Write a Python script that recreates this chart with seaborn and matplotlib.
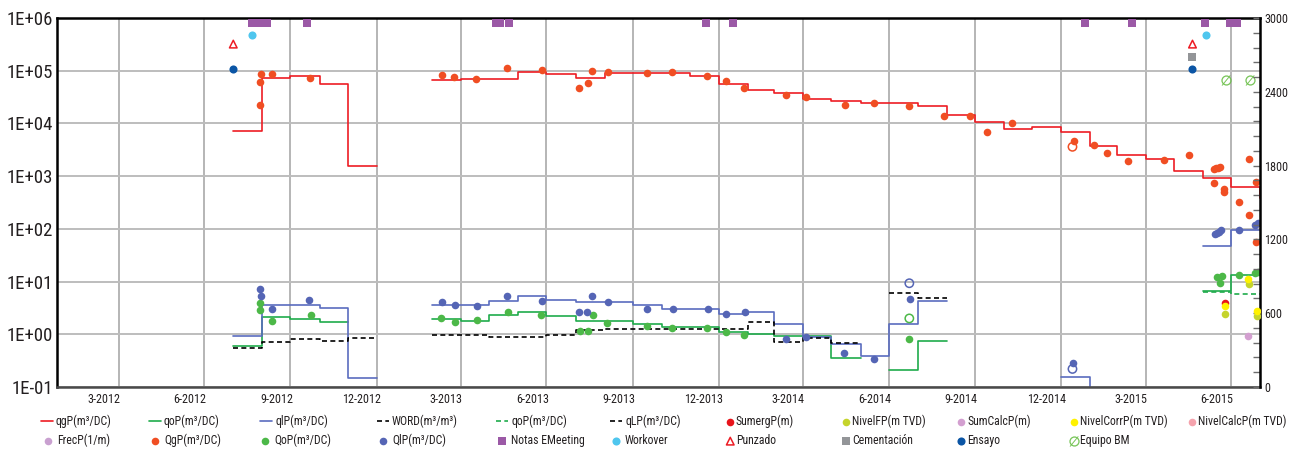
import numpy as np
import pandas as pd
import matplotlib
matplotlib.use("Agg")
import matplotlib.pyplot as plt
import matplotlib.dates as mdates
from matplotlib import ticker, font_manager
import seaborn as sns

nan = np.nan

# ---------------------------------------------------------------------------
# Monthly allocated rates (step lines): one value per calendar month
# ---------------------------------------------------------------------------
months = pd.date_range("2012-08-01", "2015-08-01", freq="MS")

qgP = [7.3e3, 7.4e4, 7.9e4, 5.7e4, 1.58e3,
       nan, nan, 6.7e4, 7.1e4, 7.1e4, 9.5e4, 8.5e4, 7.4e4, 8.9e4, 8.9e4, 8.9e4, 7.9e4,
       5.5e4, 4.3e4, 3.8e4, 2.9e4, 2.7e4, 2.4e4, 2.4e4, 2.15e4, 1.45e4, 1.07e4, 7.9e3, 8.7e3,
       6.9e3, 3.8e3, 2.5e3, 2.15e3, 1.24e3, 9.1e2, 6.3e2, 3.9e2]
qoP = [0.59, 2.16, 1.95, 1.73, nan,
       nan, nan, 1.98, 1.79, 2.29, 2.69, 2.25, 1.81, 1.81, 1.57, 1.36, 1.36,
       1.10, 1.01, 0.92, 0.92, 0.36, nan, 0.21, 0.74, nan, nan, nan, nan,
       nan, nan, nan, nan, nan, 6.7, 13.5, nan]
qlP = [0.94, 3.65, 3.65, 3.15, 0.146,
       nan, nan, 3.6, 3.6, 4.3, 5.3, 4.5, 4.1, 4.1, 3.55, 2.98, 2.98,
       2.46, 2.65, 1.55, 0.90, 0.65, 0.39, 1.57, 4.2, nan, nan, nan, nan,
       0.157, 0.01, nan, nan, nan, 48.0, 95.0, nan]
WORD = [0.54, 0.70, 0.81, 0.75, 0.86,
        nan, nan, 0.98, 0.98, 0.88, 0.88, 0.98, 1.22, 1.28, 1.28, 1.28, 1.28,
        1.28, 1.69, 0.72, 0.84, 0.67, nan, 6.0, 4.8, nan, nan, nan, nan,
        nan, nan, nan, nan, nan, nan, nan, nan]
qoP_pronostico = [nan, nan, nan, nan, nan,
                  nan, nan, nan, nan, nan, nan, nan, nan, nan, nan, nan, nan,
                  nan, nan, nan, nan, nan, nan, nan, nan, nan, nan, nan, nan,
                  nan, nan, nan, nan, nan, 6.4, 5.9, nan]
qLP = []

# ---------------------------------------------------------------------------
# Well tests (points)
# ---------------------------------------------------------------------------
QgP_fechas = ["2012-08-29", "2012-08-30", "2012-08-31", "2012-09-11", "2012-10-22",
              "2013-03-12", "2013-03-24", "2013-04-17", "2013-05-20", "2013-06-26",
              "2013-08-05", "2013-08-14", "2013-08-19", "2013-09-05", "2013-10-16",
              "2013-11-12", "2013-12-19", "2014-01-09", "2014-01-28", "2014-03-14",
              "2014-04-04", "2014-05-15", "2014-06-15", "2014-07-23", "2014-08-29",
              "2014-09-26", "2014-10-14", "2014-11-09", "2015-01-15", "2015-02-05",
              "2015-02-19", "2015-03-13", "2015-04-21", "2015-05-17", "2015-06-13",
              "2015-06-15", "2015-06-17", "2015-06-19", "2015-06-13", "2015-06-24",
              "2015-06-24", "2015-07-10", "2015-07-20", "2015-07-20", "2015-07-28",
              "2015-07-28"]
QgP_valores = [2.2e4, 6.2e4, 8.7e4, 8.7e4, 7.2e4,
               8.4e4, 7.5e4, 7.1e4, 1.15e5, 1.02e5,
               4.7e4, 5.8e4, 1.0e5, 9.6e4, 9.1e4,
               9.4e4, 7.9e4, 6.4e4, 4.6e4, 3.5e4,
               3.2e4, 2.2e4, 2.4e4, 2.15e4, 1.39e4,
               1.39e4, 6.9e3, 1.01e4, 4.7e3, 3.85e3,
               2.8e3, 1.92e3, 2.05e3, 2.56e3, 1.35e3,
               1.4e3, 1.45e3, 1.5e3, 7.5e2, 5.6e2,
               5.1e2, 3.2e2, 1.86e2, 2.1e3, 7.6e2,
               57.0]

QoP_fechas = ["2012-08-30", "2012-08-30", "2012-09-11", "2012-10-23",
              "2013-03-11", "2013-03-25", "2013-04-18", "2013-05-21", "2013-06-25",
              "2013-08-06", "2013-08-14", "2013-08-20", "2013-09-04", "2013-10-16",
              "2013-11-12", "2013-12-19", "2014-01-08", "2014-01-28", "2014-07-23",
              "2015-06-16", "2015-06-19", "2015-06-21", "2015-07-10", "2015-07-27",
              "2015-07-30"]
QoP_valores = [4.0, 2.85, 1.79, 2.32,
               2.0, 1.73, 1.87, 2.68, 2.29,
               1.17, 1.16, 2.32, 1.61, 1.46,
               1.3, 1.3, 1.09, 0.98, 0.81,
               12.1, 9.5, 12.6, 13.4, 14.6,
               15.2]

QlP_fechas = ["2012-08-29", "2012-08-31", "2012-09-11", "2012-10-21",
              "2013-03-12", "2013-03-25", "2013-04-18", "2013-05-20", "2013-06-26",
              "2013-08-05", "2013-08-13", "2013-08-19", "2013-09-05", "2013-10-16",
              "2013-11-13", "2013-12-20", "2014-01-08", "2014-01-29", "2014-03-14",
              "2014-04-04", "2014-05-14", "2014-06-15", "2014-07-24", "2015-01-14",
              "2015-06-14", "2015-06-16", "2015-06-18", "2015-06-20", "2015-07-10",
              "2015-07-27", "2015-07-30"]
QlP_valores = [7.2, 5.3, 3.06, 4.5,
               4.1, 3.55, 3.44, 5.3, 4.3,
               2.68, 2.68, 5.3, 4.05, 2.98,
               2.98, 2.98, 2.39, 2.68, 0.83,
               0.89, 0.45, 0.34, 4.6, 0.29,
               79.0, 84.0, 89.0, 94.0, 96.0,
               119.0, 127.0]

# Tests flagged as not validated (open symbols)
QgP_nv_fechas, QgP_nv_valores = ["2015-01-13"], [3.6e3]
QoP_nv_fechas, QoP_nv_valores = ["2014-07-23"], [2.0]
QlP_nv_fechas, QlP_nv_valores = ["2014-07-23", "2015-01-13"], [9.3, 0.22]

# ---------------------------------------------------------------------------
# Well events (plotted on the rate axis at fixed heights)
# ---------------------------------------------------------------------------
notas_fechas = ["2012-08-21", "2012-08-28", "2012-09-06", "2012-10-19",
                "2013-05-08", "2013-05-12", "2013-05-22", "2013-12-18",
                "2014-01-16", "2015-01-26", "2015-03-17", "2015-06-03",
                "2015-06-30", "2015-07-07"]
notas_valores = [8.1e5, 8.1e5, 8.1e5, 8.1e5, 8.1e5, 8.1e5, 8.1e5,
                 8.1e5, 8.1e5, 8.1e5, 8.1e5, 8.1e5, 8.1e5, 8.1e5]
workover_fechas, workover_valores = ["2012-08-21", "2015-06-04"], [4.8e5, 4.8e5]
punzado_fechas, punzado_valores = ["2012-08-01", "2015-05-21"], [3.2e5, 3.2e5]
cementacion_fechas, cementacion_valores = ["2015-05-21"], [1.85e5]
ensayo_fechas, ensayo_valores = ["2012-08-01", "2015-05-21"], [1.1e5, 1.1e5]
equipo_fechas, equipo_valores = ["2015-06-26", "2015-07-21"], [6.7e4, 6.7e4]

# ---------------------------------------------------------------------------
# Levels and submergence (right axis, metres)
# ---------------------------------------------------------------------------
sumerg_fechas, sumerg_valores = ["2015-06-25"], [685.0]
nivelF_fechas, nivelF_valores = ["2015-06-25", "2015-07-20", "2015-07-29"], [596.0, 835.0, 580.0]
nivelCorr_fechas, nivelCorr_valores = ["2015-06-25", "2015-07-19", "2015-07-29"], [661.0, 878.0, 620.0]
sumCalc_fechas, sumCalc_valores = ["2015-07-19"], [415.0]
nivelCalc_fechas, nivelCalc_valores = [], []
frec_fechas, frec_valores = [], []

# ---------------------------------------------------------------------------
# Style
# ---------------------------------------------------------------------------
sns.set_style("white")


def pick_font():
    """Prefer a narrow sans face; fall back to DejaVu Sans."""
    faces = font_manager.fontManager.ttflist
    names = {f.name for f in faces}
    for n in ["Liberation Sans Narrow", "Roboto Condensed", "DejaVu Sans Condensed",
              "Open Sans Condensed", "Noto Sans Condensed", "Noto Sans Display Condensed"]:
        if n in names:
            return n, "normal"
    for f in faces:
        st = str(f.stretch).lower()
        if st in ("condensed", "semi-condensed", "extra-condensed") and f.style == "normal" \
                and str(f.weight) in ("400", "normal", "regular"):
            return f.name, st
    return "DejaVu Sans", "normal"


FONT, STRETCH = pick_font()
plt.rcParams["font.family"] = [FONT, "DejaVu Sans"]
plt.rcParams["font.stretch"] = STRETCH
plt.rcParams["text.color"] = "#231f20"
plt.rcParams["xtick.color"] = "#231f20"
plt.rcParams["ytick.color"] = "#231f20"

C_GAS = "#ed1c24"
C_OIL = "#1fab4b"
C_LIQ = "#5a6cbf"
C_QG = "#f04e23"
C_QO = "#4cb848"
C_QL = "#5565b5"

W, H = 1298, 450
fig = plt.figure(figsize=(W / 100, H / 100), dpi=100)


def size_for(sample, width_px):
    """Font size (pt) at which `sample` is width_px wide."""
    r = fig.canvas.get_renderer()
    t = fig.text(0, 0, sample, fontsize=10)
    w = t.get_window_extent(r).width
    t.remove()
    return 10 * width_px / w


FS_LEFT = size_for("1E+06", 46)
FS_TICK = size_for("3-2012", 32.5)
FS_LEG = size_for("qgP(m³/DC)", 56)

ax = fig.add_axes([57 / W, 1 - 387 / H, (1260 - 57) / W, (387 - 18) / H])
ax.set_yscale("log")
ax.set_ylim(0.1, 1e6)
ax.set_xlim(pd.Timestamp("2012-01-26"), pd.Timestamp("2015-08-01"))


def step_frame(values):
    """Turn monthly values into vertices of a month-by-month staircase."""
    rows, tramo, prev_ok = [], 0, False
    for i, v in enumerate(values):
        if np.isnan(v):
            prev_ok = False
            continue
        if not prev_ok:
            tramo += 1
        start = months[i]
        end = start + pd.offsets.MonthBegin(1)
        rows.append((start, v, tramo))
        rows.append((end, v, tramo))
        prev_ok = True
    return pd.DataFrame(rows, columns=["fecha", "valor", "tramo"])


def step_line(values, color, ls="-"):
    df = step_frame(values)
    sns.lineplot(data=df, x="fecha", y="valor", units="tramo", estimator=None,
                 sort=False, color=color, lw=1.2, linestyle=ls, ax=ax,
                 legend=False, zorder=2)
    return ax.lines[-1]


dash = (0, (3.0, 2.0))
h_qg = step_line(qgP, C_GAS)
h_qo = step_line(qoP, C_OIL)
h_ql = step_line(qlP, C_LIQ)
h_word = step_line(WORD, "black", dash)
h_qo2 = step_line(qoP_pronostico, C_OIL, dash)
h_qL = ax.plot(qLP, qLP, color="black", lw=1.2, linestyle=dash)[0]


def dots(axis, fechas, valores, color, s=30, marker="o", hollow=False, lw=0, z=4):
    x = pd.to_datetime(pd.Series(fechas, dtype="object"))
    y = pd.Series(valores, dtype=float)
    kw = dict(x=x, y=y, ax=axis, color=color, s=s, marker=marker, legend=False, zorder=z)
    if hollow:
        kw.update(facecolor="none", edgecolor=color, linewidth=1.1)
    else:
        kw.update(linewidth=lw, edgecolor=color)
    sns.scatterplot(**kw)
    return axis.collections[-1]


h_QG = dots(ax, QgP_fechas, QgP_valores, C_QG)
h_QO = dots(ax, QoP_fechas, QoP_valores, C_QO)
h_QL = dots(ax, QlP_fechas, QlP_valores, C_QL)
dots(ax, QgP_nv_fechas, QgP_nv_valores, C_QG, s=36, hollow=True)
dots(ax, QoP_nv_fechas, QoP_nv_valores, C_QO, s=36, hollow=True)
dots(ax, QlP_nv_fechas, QlP_nv_valores, C_QL, s=36, hollow=True)

h_notas = dots(ax, notas_fechas, notas_valores, "#9b59a6", s=30, marker="s")
h_work = dots(ax, workover_fechas, workover_valores, "#4fc6ee", s=34)
h_punz = dots(ax, punzado_fechas, punzado_valores, C_GAS, s=30, marker="^", hollow=True)
h_cem = dots(ax, cementacion_fechas, cementacion_valores, "#939598", s=30, marker="s")
h_ens = dots(ax, ensayo_fechas, ensayo_valores, "#0b55a5", s=34)
h_equipo = dots(ax, equipo_fechas, equipo_valores, "#6cc04a", s=50,
                marker=r"$\varnothing$", lw=0.2)

# Right axis: levels in metres
ax2 = ax.twinx()
ax2.set_ylim(0, 3000)
h_sum = dots(ax2, sumerg_fechas, sumerg_valores, "#e8141b", s=30)
h_nivF = dots(ax2, nivelF_fechas, nivelF_valores, "#c5d42c", s=30)
h_nivCorr = dots(ax2, nivelCorr_fechas, nivelCorr_valores, "#fff200", s=30)
h_sumCalc = dots(ax2, sumCalc_fechas, sumCalc_valores, "#d39fd0", s=30)
h_nivCalc = ax2.scatter(nivelCalc_fechas, nivelCalc_valores, s=30, color="#f5a3ad", lw=0)
h_frec = ax2.scatter(frec_fechas, frec_valores, s=30, color="#c9a0d0", lw=0)
ax2.set_ylim(0, 3000)
ax2.set_ylabel("")

# ---------------------------------------------------------------------------
# Axes decoration
# ---------------------------------------------------------------------------
ax.set_xlabel("")
ax.set_ylabel("")
ax.yaxis.set_major_locator(ticker.LogLocator(base=10, numticks=12))
ax.yaxis.set_minor_locator(ticker.NullLocator())
ax.yaxis.set_major_formatter(ticker.FuncFormatter(
    lambda v, p: "1E{:+03d}".format(int(round(np.log10(v))))))
ax.tick_params(axis="y", which="both", length=0, pad=3, labelsize=FS_LEFT)
ax.grid(axis="y", which="major", color="#bdbdbd", lw=1.4)
ax.grid(axis="x", visible=False)
ax.set_axisbelow(True)

# quarter gridlines
for q in pd.date_range("2012-04-01", "2015-07-01", freq="QS"):
    ax.axvline(q, color="#a9a9a9", lw=1.2, zorder=0.5)

# monthly tick marks; quarter-end month labels centred in the month
ax.xaxis.set_major_locator(mdates.MonthLocator(bymonthday=1))
ax.xaxis.set_major_formatter(ticker.NullFormatter())
ax.xaxis.set_minor_locator(mdates.MonthLocator(bymonth=[3, 6, 9, 12], bymonthday=16))
ax.xaxis.set_minor_formatter(ticker.FuncFormatter(
    lambda v, p: "{}-{}".format(mdates.num2date(v).month, mdates.num2date(v).year)))
ax.tick_params(axis="x", which="major", direction="in", length=5, width=1,
               color="#6d6d6d", labelbottom=False)
ax.tick_params(axis="x", which="minor", length=0, pad=4, labelsize=FS_TICK)

ax2.yaxis.set_major_locator(ticker.MultipleLocator(600))
ax2.yaxis.set_minor_locator(ticker.MultipleLocator(120))
ax2.yaxis.set_major_formatter(ticker.FuncFormatter(lambda v, p: "{:d}".format(int(v))))
ax2.tick_params(axis="y", which="both", direction="in", length=5, width=1,
                color="#6d6d6d", pad=3, labelsize=FS_TICK)

for side in ["top", "left"]:
    ax.spines[side].set_color("black")
    ax.spines[side].set_linewidth(1.8)
ax.spines["bottom"].set_color("#4a4a4a")
ax.spines["bottom"].set_linewidth(1.8)
ax.spines["right"].set_visible(False)
for side in ["top", "left", "bottom"]:
    ax2.spines[side].set_visible(False)
ax2.spines["right"].set_color("black")
ax2.spines["right"].set_linewidth(1.8)

# ---------------------------------------------------------------------------
# Legend, laid out on a fixed grid under the plot
# ---------------------------------------------------------------------------
px = FS_LEG * 100 / 72
row_y = [421.3, 440.7]
entries = [
    (h_qg, "qgP(m³/DC)", 56, 0, "A"), (h_frec, "FrecP(1/m)", 57, 1, "A"),
    (h_qo, "qoP(m³/DC)", 164, 0, "A"), (h_QG, "QgP(m³/DC)", 164, 1, "A"),
    (h_ql, "qlP(m³/DC)", 275, 0, "A"), (h_QO, "QoP(m³/DC)", 274, 1, "A"),
    (h_word, "WORD(m³/m³)", 392, 0, "A"), (h_QL, "QlP(m³/DC)", 392, 1, "A"),
    (h_qo2, "qoP(m³/DC)", 511, 0, "A"), (h_notas, "Notas EMeeting", 511, 1, "A"),
    (h_qL, "qLP(m³/DC)", 625, 0, "A"), (h_work, "Workover", 625, 1, "A"),
    (h_sum, "SumergP(m)", 736, 0, "B"), (h_punz, "Punzado", 736, 1, "B"),
    (h_nivF, "NivelFP(m TVD)", 852, 0, "B"), (h_cem, "Cementación", 852, 1, "B"),
    (h_sumCalc, "SumCalcP(m)", 967, 0, "B"), (h_ens, "Ensayo", 967, 1, "B"),
    (h_nivCorr, "NivelCorrP(m TVD)", 1080, 0, "B"), (h_equipo, "Equipo BM", 1080, 1, "B"),
    (h_nivCalc, "NivelCalcP(m TVD)", 1198, 0, "B"),
]
for handle, label, text_x, row, grp in entries:
    hl_px, pad_px = (12.0, 3.5) if grp == "A" else (6.5, 2.5)
    x0 = text_x - hl_px - pad_px
    fig.legend([handle], [label], loc="center left",
               bbox_to_anchor=(x0 / W, 1 - row_y[row] / H),
               frameon=False, fontsize=FS_LEG, handlelength=hl_px / px,
               handletextpad=pad_px / px, borderpad=0, borderaxespad=0,
               scatterpoints=1)

fig.savefig("out.png", dpi=100)
